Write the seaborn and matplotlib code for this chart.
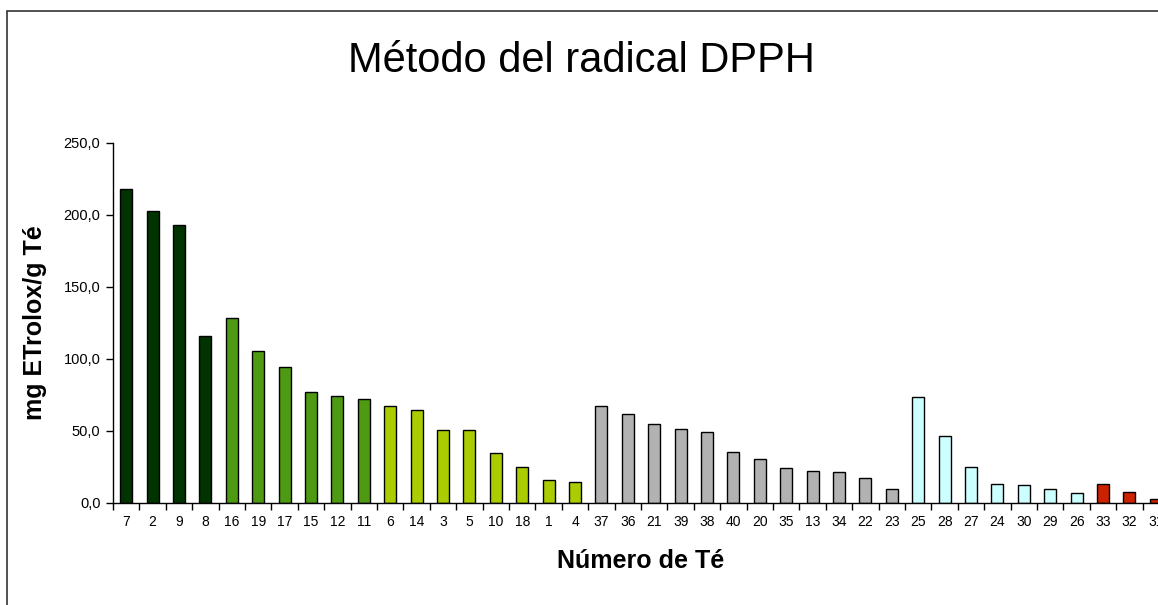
"""
Método del radical DPPH
capacidad antioxidante (mg ETrolox/g Té) por número de té
"""
import pandas as pd
import numpy as np
import matplotlib
matplotlib.use('Agg')
import matplotlib.pyplot as plt
from matplotlib.patches import Rectangle
from matplotlib.ticker import FuncFormatter, MultipleLocator
import seaborn as sns

# ── datos ────────────────────────────────────────────────────
te_numeros = ['7', '2', '9', '8', '16', '19', '17', '15', '12', '11',
              '6', '14', '3', '5', '10', '18', '1', '4',
              '37', '36', '21', '39', '38', '40', '20', '35', '13', '34', '22', '23',
              '25', '28', '27', '24', '30', '29', '26',
              '33', '32', '31']
etrolox = [218.4, 203.1, 193.2, 115.7, 128.5, 105.5, 94.6, 77.0, 74.2, 72.4,
           67.5, 64.7, 51.0, 51.0, 34.8, 25.1, 16.3, 14.4,
           67.5, 61.9, 55.0, 51.3, 49.2, 35.7, 30.9, 24.1, 22.3, 21.4, 17.4, 9.5,
           73.5, 46.6, 25.1, 13.5, 12.5, 9.5, 6.7,
           13.5, 7.7, 2.8]
grupo = (['negro'] * 4 + ['verde'] * 6 + ['amarillo'] * 8 +
         ['gris'] * 12 + ['celeste'] * 7 + ['rojo'] * 3)
colores = {'negro': '#003300', 'verde': '#4E9A12', 'amarillo': '#AACC00',
           'gris': '#B2B2B2', 'celeste': '#CCFFFF', 'rojo': '#CC2200'}

df = pd.DataFrame({'te': te_numeros, 'etrolox': etrolox, 'grupo': grupo})

# ── estilo ───────────────────────────────────────────────────
sns.set_style('white')
plt.rcParams['font.family'] = ['Liberation Sans', 'DejaVu Sans']
plt.rcParams['text.color'] = 'black'
plt.rcParams['axes.labelcolor'] = 'black'
plt.rcParams['xtick.color'] = 'black'
plt.rcParams['ytick.color'] = 'black'

fig = plt.figure(figsize=(11.58, 6.05), dpi=100)
ax = fig.add_axes([113 / 1158, 102 / 605, 1056 / 1158, 360 / 605])

sns.barplot(data=df, x='te', y='etrolox', hue='grupo', palette=colores,
            dodge=False, width=0.45, saturation=1, edgecolor='black',
            linewidth=1.0, legend=False, ax=ax)

# ── ejes ─────────────────────────────────────────────────────
n = len(te_numeros)
ax.set_xlim(-0.5, n - 0.5)
ax.set_ylim(0, 250)
ax.yaxis.set_major_locator(MultipleLocator(50))
ax.yaxis.set_major_formatter(FuncFormatter(lambda v, p: f'{v:.1f}'.replace('.', ',')))

ax.set_xticks(np.arange(-0.5, n, 1.0), minor=True)
ax.tick_params(axis='x', which='major', bottom=True, length=0, pad=9, labelsize=10)
ax.tick_params(axis='x', which='minor', bottom=True, length=5, width=1,
               direction='out', color='black')
ax.tick_params(axis='y', left=True, length=5, width=1, direction='out',
               color='black', pad=4, labelsize=10.5)

for s in ['top', 'right']:
    ax.spines[s].set_visible(False)
for s in ['left', 'bottom']:
    ax.spines[s].set_color('black')
    ax.spines[s].set_linewidth(1.0)

ax.set_xlabel('Número de Té', fontsize=18, fontweight='bold', labelpad=14)
ax.set_ylabel('mg ETrolox/g Té', fontsize=18, fontweight='bold', labelpad=12)
fig.text(0.502, 1 - 61 / 605, 'Método del radical DPPH', fontsize=30,
         ha='center', va='center')

# marco del área del gráfico
fig.add_artist(Rectangle((7 / 1158, -0.1), 1.2, 1 - 11 / 605 + 0.1,
                         transform=fig.transFigure, fill=False,
                         edgecolor='#333333', linewidth=1.2))

plt.savefig('out.png', dpi=100)
plt.close()
